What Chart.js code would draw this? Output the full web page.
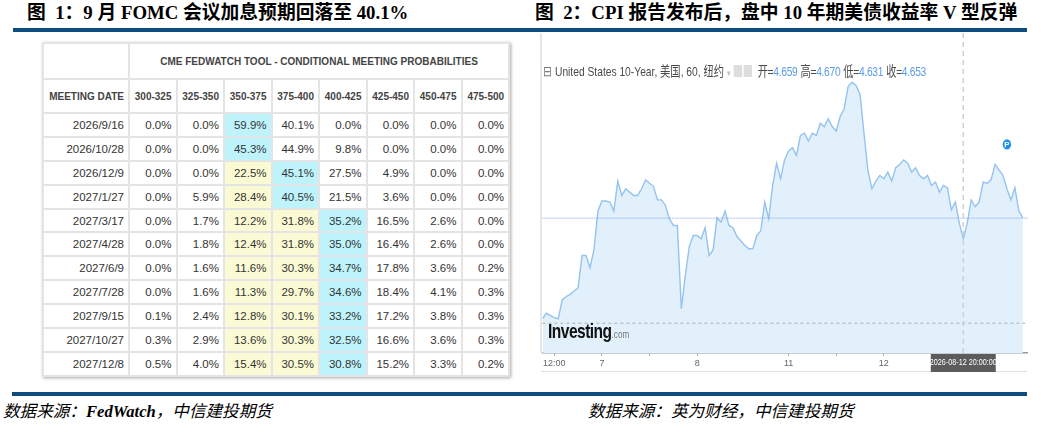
<!DOCTYPE html>
<html><head><meta charset="utf-8">
<script src="https://cdn.jsdelivr.net/npm/chart.js@4.4.1/dist/chart.umd.min.js"></script>
<style>
html,body{margin:0;padding:0;}
body{width:1041px;height:432px;position:relative;background:#fff;overflow:hidden;font-family:"Liberation Sans",Arial,sans-serif;}
.abs{position:absolute;}
.title{position:absolute;top:1px;font-family:"Liberation Serif","Noto Sans CJK SC",serif;font-weight:bold;font-size:18.8px;line-height:24px;color:#000;white-space:nowrap;}
.rule{position:absolute;height:4px;background:#0d4c7c;}
.src{position:absolute;top:401px;font-family:"Liberation Serif","Noto Sans CJK SC",serif;font-style:italic;font-size:16.6px;line-height:22px;color:#000;white-space:nowrap;}
#tbl{position:absolute;left:42px;top:42px;width:466px;border-collapse:collapse;table-layout:fixed;box-shadow:1px 1px 3px rgba(0,0,0,0.35);background:#fff;}
#tbl td{border:2px solid #e4e4e4;padding:0 4px 0 0;text-align:right;font-size:11.5px;color:#333;white-space:nowrap;overflow:hidden;}
#tbl tr.h1 td{height:34px;font-weight:bold;font-size:10px;color:#444;text-align:center;padding:0;}
#tbl tr.h2 td{height:32px;font-weight:bold;font-size:10px;color:#444;}
#tbl tr.d td{height:21.9px;}
#hdr{position:absolute;left:543px;top:60px;height:17px;white-space:nowrap;font-size:13.5px;color:#4a4a4a;font-family:"Liberation Sans","Noto Sans CJK SC",sans-serif;transform:scaleX(0.76);transform-origin:0 0;}
#hdr .v{color:#5a9be8;}
#hdr .g{margin-left:4px;letter-spacing:-0.4px;}
#logo{position:absolute;left:548px;top:319px;white-space:nowrap;transform:scaleX(0.74);transform-origin:0 0;}
</style>
</head><body>

<div class="title" style="left:27px;">图&nbsp;&nbsp;1：9 月 FOMC 会议加息预期回落至 40.1%</div>
<div class="title" style="left:535px;">图&nbsp;&nbsp;2：CPI 报告发布后，盘中 10 年期美债收益率 V 型反弹</div>
<div class="rule" style="left:13px;top:28px;width:1014px;"></div>
<div class="rule" style="left:12px;top:392px;width:1015px;"></div>
<div class="src" style="left:3px;">数据来源：<b>FedWatch</b>，中信建投期货</div>
<div class="src" style="left:588px;">数据来源：英为财经，中信建投期货</div>

<table id="tbl"></table>

<div class="abs" style="left:540px;top:33px;width:2px;height:320px;background:#e6e6e6;"></div>
<div class="abs" style="left:541px;top:371px;width:486px;height:1px;background:#e0e0e0;"></div>
<div class="abs" style="left:541px;top:33px;width:487px;height:339px;">
  <canvas id="c"></canvas>
</div>
<div id="hdr"><span style="color:#777">⊟</span> United States 10-Year, 美国, 60, 纽约 <span style="color:#bbb;font-size:9px">▾</span> <span style="display:inline-block;width:11px;height:12px;background:#ddd;vertical-align:-1px"></span><span style="display:inline-block;width:11px;height:12px;background:#ddd;margin-left:2px;vertical-align:-1px"></span>&nbsp;<span id="ohlc"></span></div>
<div id="logo"><span style="font-family:'Liberation Sans',sans-serif;font-weight:bold;font-size:21px;color:#111;letter-spacing:-0.7px">Investing</span><span style="font-family:'Liberation Sans',sans-serif;font-size:11px;color:#777">.com</span></div>

<script>
// ---------- Figure 1: CME FedWatch table ----------
const meetingDates = ['2026/9/16','2026/10/28','2026/12/9','2027/1/27','2027/3/17','2027/4/28','2027/6/9','2027/7/28','2027/9/15','2027/10/27','2027/12/8'];
const rateRanges = ['300-325','325-350','350-375','375-400','400-425','425-450','450-475','475-500'];
const currentRange = '350-375';
const probRow0 = [0.0,0.0,59.9,40.1,0.0,0.0,0.0,0.0];
const probRow1 = [0.0,0.0,45.3,44.9,9.8,0.0,0.0,0.0];
const probRow2 = [0.0,0.0,22.5,45.1,27.5,4.9,0.0,0.0];
const probRow3 = [0.0,5.9,28.4,40.5,21.5,3.6,0.0,0.0];
const probRow4 = [0.0,1.7,12.2,31.8,35.2,16.5,2.6,0.0];
const probRow5 = [0.0,1.8,12.4,31.8,35.0,16.4,2.6,0.0];
const probRow6 = [0.0,1.6,11.6,30.3,34.7,17.8,3.6,0.2];
const probRow7 = [0.0,1.6,11.3,29.7,34.6,18.4,4.1,0.3];
const probRow8 = [0.1,2.4,12.8,30.1,33.2,17.2,3.8,0.3];
const probRow9 = [0.3,2.9,13.6,30.3,32.5,16.6,3.6,0.3];
const probRow10 = [0.5,4.0,15.4,30.5,30.8,15.2,3.3,0.2];
const probs = [probRow0,probRow1,probRow2,probRow3,probRow4,probRow5,probRow6,probRow7,probRow8,probRow9,probRow10];
const tableTitle = 'CME FEDWATCH TOOL - CONDITIONAL MEETING PROBABILITIES';

// ---------- Figure 2: US 10Y hourly ----------
const seriesName = 'United States 10-Year';
const ohlcLabels = ['开','高','低','收'];
const ohlcValues = [4.659, 4.670, 4.631, 4.653];
const yields = [
 4.562,4.567,4.565,4.563,4.562,4.579,4.582,4.584,4.587,4.590,
 4.619,4.619,4.608,4.624,4.659,4.668,4.668,4.667,4.659,4.686,
 4.673,4.679,4.676,4.673,4.673,4.679,4.687,4.684,4.681,4.669,
 4.669,4.664,4.652,4.646,4.646,4.571,4.601,4.627,4.637,4.637,
 4.634,4.644,4.619,4.624,4.653,4.649,4.659,4.646,4.644,4.636,
 4.632,4.628,4.625,4.625,4.637,4.641,4.667,4.652,4.682,4.702,
 4.688,4.705,4.713,4.716,4.709,4.727,4.729,4.722,4.729,4.727,
 4.738,4.735,4.742,4.735,4.731,4.744,4.751,4.771,4.775,4.772,
 4.764,4.729,4.695,4.679,4.686,4.691,4.688,4.694,4.686,4.698,
 4.701,4.705,4.702,4.694,4.698,4.691,4.688,4.691,4.682,4.685,
 4.676,4.682,4.680,4.660,4.667,4.648,4.634,4.648,4.669,4.663,
 4.667,4.685,4.684,4.687,4.701,4.696,4.691,4.679,4.669,4.680,
 4.659,4.653];
const tickHours = [3,15,27,39,62,74,86];
const tickLabels = ['12:00','7','','8','11','','12'];
const crosshairHour = 106;
const crosshairLabel = '2026-08-12 20:00:00';
const crosshairYield = 4.558;
const pMarkerHour = 117;
const pMarkerYield = 4.719;

// build table
(function(){
  const t = document.getElementById('tbl');
  let html = '<colgroup><col style="width:86px">' + rateRanges.map(()=> '<col style="width:47.5px">').join('') + '</colgroup>';
  html += '<tr class="h1"><td></td><td colspan="'+rateRanges.length+'">'+tableTitle+'</td></tr>';
  html += '<tr class="h2"><td>MEETING DATE</td>' + rateRanges.map(r=>'<td>'+r+'</td>').join('') + '</tr>';
  const cur = rateRanges.indexOf(currentRange);
  meetingDates.forEach((d,ri)=>{
    const row = probs[ri];
    const mx = row.indexOf(Math.max(...row));
    html += '<tr class="d"><td>'+d+'</td>' + row.map((v,ci)=>{
      let bg = '#fff';
      if (ci===mx) bg = '#bff3fc';
      else if (ci>=cur && ci<mx) bg = '#fafad4';
      return '<td style="background:'+bg+'">'+v.toFixed(1)+'%</td>';
    }).join('') + '</tr>';
  });
  t.innerHTML = html;
  document.getElementById('ohlc').innerHTML = ohlcLabels.map((l,i)=> '<span class="g">'+l+'=<span class="v">'+ohlcValues[i].toFixed(3)+'</span></span>').join('');
})();

const closeYield = ohlcValues[3];

const overlay = {
  id:'overlay',
  afterDatasetsDraw(chart){
    const {ctx, chartArea:a, scales:{x,y}} = chart;
    ctx.save();
    const yc = y.getPixelForValue(crosshairYield);
    ctx.strokeStyle = '#b0b0b0'; ctx.lineWidth = 1; ctx.setLineDash([3,3]);
    ctx.beginPath(); ctx.moveTo(a.left, yc); ctx.lineTo(a.right, yc); ctx.stroke();
    const yp = y.getPixelForValue(closeYield);
    ctx.strokeStyle = 'rgba(120,155,235,0.9)'; ctx.lineWidth = 1; ctx.setLineDash([1,1]);
    ctx.beginPath(); ctx.moveTo(a.left, yp+0.5); ctx.lineTo(a.right, yp+0.5); ctx.stroke();
    const xc = x.getPixelForValue(crosshairHour);
    ctx.strokeStyle = '#cfcfcf'; ctx.lineWidth = 1.5; ctx.setLineDash([5,4]);
    ctx.beginPath(); ctx.moveTo(xc, a.top); ctx.lineTo(xc, a.bottom); ctx.stroke();
    ctx.setLineDash([]);
    const px = x.getPixelForValue(pMarkerHour), py = y.getPixelForValue(pMarkerYield);
    ctx.fillStyle = '#1f8ff0';
    ctx.beginPath(); ctx.ellipse(px, py, 4.2, 5.2, 0, 0, Math.PI*2); ctx.fill();
    ctx.fillStyle = '#fff'; ctx.font = 'bold 8px "Liberation Sans"'; ctx.textAlign='center'; ctx.textBaseline='middle';
    ctx.fillText('P', px, py+0.5);
    ctx.restore();
  },
  afterDraw(chart){
    const {ctx, chartArea:a, scales:{x}} = chart;
    ctx.save();
    const xc = x.getPixelForValue(crosshairHour);
    ctx.font = '9px "Liberation Sans"';
    const w = 65;
    ctx.fillStyle = '#5c5c5c';
    ctx.fillRect(xc - w/2, a.bottom+1, w, 18);
    ctx.fillStyle = '#fff'; ctx.textAlign='center'; ctx.textBaseline='middle';
    ctx.save(); ctx.translate(xc, a.bottom+10); ctx.scale(0.8,1);
    ctx.fillText(crosshairLabel, 0, 0);
    ctx.restore();
    ctx.restore();
  }
};

new Chart(document.getElementById('c'), {
  type:'line',
  data:{
    datasets:[{
      label: seriesName,
      data: yields.map((v,i)=>({x:i,y:v})),
      borderColor:'#94c3ef',
      borderWidth:1.4,
      backgroundColor:'#e1f0fa',
      fill:'start',
      pointRadius:0,
      tension:0
    }]
  },
  options:{
    responsive:true, maintainAspectRatio:false, animation:false,
    layout:{padding:0},
    plugins:{legend:{display:false}, tooltip:{enabled:false}},
    scales:{
      x:{
        type:'linear', min:0, max:122.3, offset:false,
        afterBuildTicks(s){ s.ticks = tickHours.map(v=>({value:v})); },
        afterFit(s){ s.height = 19; },
        grid:{display:true, drawOnChartArea:false, drawTicks:true, tickLength:3, color:'#b0b0b0'},
        border:{display:true, color:'#999', width:1.5},
        ticks:{autoSkip:false, maxRotation:0, padding:2, color:'#666', font:{size:9, family:'"Liberation Sans"'},
          callback(v, i){ return tickLabels[i]; }}
      },
      y:{
        display:false, min: 4.5312, max: 4.8192
      }
    }
  },
  plugins:[overlay]
});
</script>
</body></html>
